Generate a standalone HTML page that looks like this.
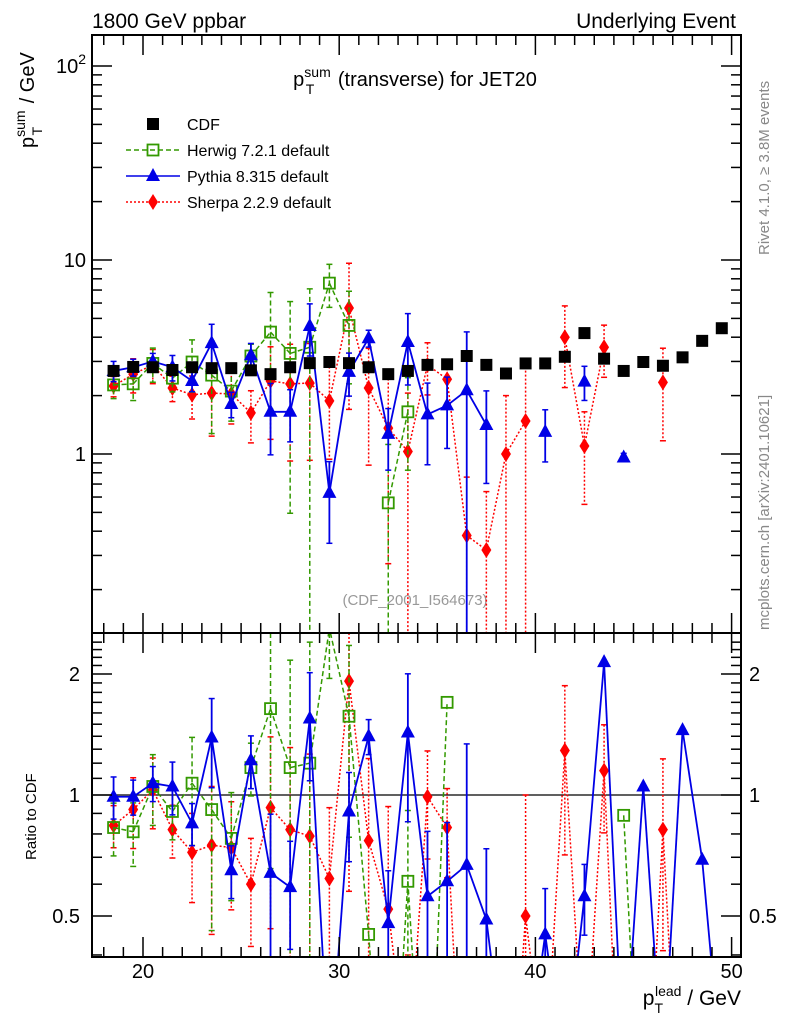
<!DOCTYPE html>
<html><head><meta charset="utf-8"><style>
html,body{margin:0;padding:0;background:#fff;overflow:hidden;width:786px;height:1024px;}
svg{display:block;font-family:"Liberation Sans",Arial,sans-serif;}
</style></head><body>
<svg id="chart" width="786" height="1024" viewBox="0 0 786 1024" xmlns="http://www.w3.org/2000/svg">
<text x="92" y="28" font-size="21">1800 GeV ppbar</text>
<text x="736" y="28" font-size="21" text-anchor="end">Underlying Event</text>
<text x="415" y="86" font-size="20" text-anchor="middle">p<tspan font-size="14" dy="-9">sum</tspan><tspan font-size="14" dx="-25" dy="17">T</tspan><tspan dy="-8" dx="18"> (transverse) for JET20</tspan></text>
<text transform="translate(34,148) rotate(-90)" font-size="20">p<tspan font-size="14" dy="-9">sum</tspan><tspan font-size="14" dx="-25" dy="17">T</tspan><tspan dy="-8" dx="18"> / GeV</tspan></text>
<text transform="translate(36,860) rotate(-90)" font-size="15">Ratio to CDF</text>
<text x="741" y="1005" font-size="21" text-anchor="end">p<tspan font-size="14" dy="8">T</tspan><tspan font-size="14" dx="-8" dy="-17">lead</tspan><tspan dy="9"> / GeV</tspan></text>
<text transform="translate(769,255) rotate(-90)" font-size="15" fill="#888">Rivet 4.1.0, ≥ 3.8M events</text>
<text transform="translate(769,630) rotate(-90)" font-size="15" fill="#888">mcplots.cern.ch [arXiv:2401.10621]</text>
<text x="415" y="605" font-size="15" fill="#999" text-anchor="middle">(CDF_2001_I564673)</text>
<g id="legend"></g>
<g id="main"></g>
<g id="ratio"></g>
<g id="axes"></g>
</svg>
<script>
const xBins=[18.5,19.5,20.5,21.5,22.5,23.5,24.5,25.5,26.5,27.5,28.5,29.5,30.5,31.5,32.5,33.5,34.5,35.5,36.5,37.5,38.5,39.5,40.5,41.5,42.5,43.5,44.5,45.5,46.5,47.5,48.5,49.5];
const cdfVals=[2.68,2.81,2.8,2.71,2.8,2.77,2.77,2.7,2.58,2.8,2.94,2.98,2.94,2.8,2.58,2.68,2.88,2.9,3.2,2.88,2.6,2.93,2.93,3.17,4.2,3.1,2.68,2.98,2.85,3.15,3.83,4.45];
const herwigVals=[2.27,2.3,2.93,2.46,2.98,2.55,2.11,3.2,4.25,3.3,3.55,7.6,4.6,null,0.56,1.65,null,null,null,null,null,null,null,null,null,null,null,null,null,null,null,null];
const herwigErr=[0.15,0.18,0.2,0.15,0.3,0.5,0.3,0.15,0.6,0.85,1,0.25,0.5,null,1,0.5,null,null,null,null,null,null,null,null,null,null,null,null,null,null,null,null];
const pythiaVals=[2.68,2.8,3.0,2.8,2.38,3.73,1.81,3.23,1.65,1.65,4.57,0.63,2.65,3.95,1.27,3.78,1.6,1.78,2.13,1.41,null,null,1.3,null,2.36,null,0.96,null,null,null,null,null];
const pythiaErr=[0.12,0.1,0.1,0.15,0.12,0.25,0.15,0.15,0.4,0.3,0.3,0.45,0.25,0.1,0.35,0.4,0.45,0.4,1,0.5,null,null,0.3,null,0.2,null,0.05,null,null,null,null,null];
const sherpaVals=[2.24,2.58,2.88,2.19,2.02,2.06,2.04,1.63,2.38,2.3,2.32,1.88,5.66,2.19,1.36,1.03,2.88,2.43,0.38,0.32,1.0,1.48,null,4.0,1.1,3.55,null,null,2.34,null,null,null];
const sherpaErr=[0.12,0.2,0.2,0.15,0.25,0.4,0.3,0.3,0.5,0.6,0.6,0.5,0.7,0.6,0.8,1,0.3,0.25,1,1,1,1,null,0.45,0.5,0.3,null,null,0.5,null,null,null];
const herwigRatio=[0.83,0.81,1.05,0.91,1.07,0.92,0.78,1.17,1.64,1.17,1.2,2.6,1.57,0.45,0.1,0.61,0.1,1.7,null,null,null,null,null,null,null,null,0.89,0.1,null,null,null,null];
const pythiaRatio=[0.99,0.99,1.07,1.05,0.85,1.39,0.65,1.22,0.64,0.59,1.55,0.2,0.91,1.4,0.48,1.43,0.56,0.61,0.67,0.49,0.2,0.2,0.45,0.2,0.56,2.14,0.2,1.05,0.2,1.45,0.69,0.2];
const sherpaRatio=[0.84,0.92,1.03,0.82,0.72,0.75,0.74,0.6,0.93,0.82,0.79,0.62,1.92,0.77,0.52,0.2,0.99,0.83,0.1,0.1,0.1,0.5,0.2,1.29,0.2,1.15,0.1,0.1,0.82,0.1,null,null];
const xTicks=[20,30,40,50];
const mainTickVals=[1,10,100];
const ratioTickVals=[0.5,1,2];
const ratioTickLabels=["0.5","1","2"];

const NS="http://www.w3.org/2000/svg";
function X(v){return 143+(v-20)*19.62;}
function YM(v){return 454-194*Math.log10(v);}
function YR(v){return 795-402*Math.log10(v);}
function mk(tag,at,parent){const e=document.createElementNS(NS,tag);for(const k in at)e.setAttribute(k,at[k]);parent.appendChild(e);return e;}
const main=document.getElementById('main'),ratio=document.getElementById('ratio'),axes=document.getElementById('axes'),leg=document.getElementById('legend');
const G="#339900",B="#0000e6",R="#ff0000";
function marker(kind,x,y,par,name){let e;
 if(kind==='cdf')e=mk('rect',{x:x-6,y:y-6,width:12,height:12,fill:'#000'},par);
 else if(kind==='herwig')e=mk('rect',{x:x-5.5,y:y-5.5,width:11,height:11,fill:'none',stroke:G,'stroke-width':1.8},par);
 else if(kind==='pythia')e=mk('polygon',{points:`${x},${y-8} ${x-7},${y+5} ${x+7},${y+5}`,fill:B},par);
 else e=mk('polygon',{points:`${x},${y-8} ${x-5},${y} ${x},${y+8} ${x+5},${y}`,fill:R},par);
 
 
 return e;}
function clipSeg(x1,y1,x2,y2,top,bot){
 let t0=0,t1=1;const dy=y2-y1;
 if(dy===0){if(y1<top||y1>bot)return null;return [x1,y1,x2,y2];}
 let ta=(top-y1)/dy,tb=(bot-y1)/dy;if(ta>tb){const s=ta;ta=tb;tb=s;}
 t0=Math.max(t0,ta);t1=Math.min(t1,tb);if(t0>=t1)return null;
 return [x1+(x2-x1)*t0,y1+dy*t0,x1+(x2-x1)*t1,y1+dy*t1];}
function series(par,vals,errs,Y,kind,color,dash,width,name,top,bot){
 function cl(y){return Math.max(top,Math.min(bot,y));}
 for(let i=0;i<vals.length-1;i++){if(vals[i]===null||vals[i+1]===null)continue;
  const s=clipSeg(X(xBins[i]),Y(vals[i]),X(xBins[i+1]),Y(vals[i+1]),top,bot);if(!s)continue;
  const l=mk('line',{x1:s[0],y1:s[1],x2:s[2],y2:s[3],stroke:color,'stroke-width':width,'stroke-dasharray':dash},par);
  
  }
 vals.forEach((v,i)=>{if(v===null)return;const x=X(xBins[i]);
  if(errs&&errs[i]!==null){const lo=v*(1-errs[i]),hi=v*(1+errs[i]);const y1=cl(Y(hi)),y2=lo>0.001?cl(Y(lo)):bot;
   if(y2>y1){
   const eb=mk('line',{x1:x,x2:x,y1:y1,y2:y2,stroke:color,'stroke-width':width,'stroke-dasharray':dash},par);
   
   
   if(y1>top)mk('line',{x1:x-3,x2:x+3,y1:y1,y2:y1,stroke:color,'stroke-width':1.5},par);
   if(y2<bot)mk('line',{x1:x-3,x2:x+3,y1:y2,y2:y2,stroke:color,'stroke-width':1.5},par);}}
  const yy=Y(v); if(yy>bot||yy<top)return;
  marker(kind,x,yy,par,name+'-point');});}
const rl=mk('line',{x1:92,x2:741,y1:YR(1),y2:YR(1),stroke:'#000','stroke-width':1.2},ratio);


series(main,sherpaVals,sherpaErr,YM,'sherpa',R,'2,2',1.5,'sherpa',35,633);
series(main,herwigVals,herwigErr,YM,'herwig',G,'5,3',1.5,'herwig',35,633);
series(main,pythiaVals,pythiaErr,YM,'pythia',B,'',1.8,'pythia',35,633);
cdfVals.forEach((v,i)=>marker('cdf',X(xBins[i]),YM(v),main,'cdf-point'));
series(ratio,sherpaRatio,sherpaErr,YR,'sherpa',R,'2,2',1.5,'sherpa-ratio',633,957);
series(ratio,herwigRatio,herwigErr,YR,'herwig',G,'5,3',1.5,'herwig-ratio',633,957);
series(ratio,pythiaRatio,pythiaErr,YR,'pythia',B,'',1.8,'pythia-ratio',633,957);
[[35,633],[633,957]].forEach(([t,b],k)=>{const f=mk('rect',{x:92,y:t,width:649,height:b-t,fill:'none',stroke:'#000','stroke-width':2},axes);
 
 
 for(let v=18;v<=50;v++){const x=X(v);const L=(v%10===0)?20:10;
  mk('line',{x1:x,x2:x,y1:b,y2:b-L,stroke:'#000','stroke-width':1.5},axes);
  mk('line',{x1:x,x2:x,y1:t,y2:t+L,stroke:'#000','stroke-width':1.5},axes);}});
xTicks.forEach(v=>{const t=mk('text',{x:X(v),y:978,'font-size':20,'text-anchor':'middle'},axes);t.textContent=v;
 
 });
for(let d=-1;d<=2;d++)for(let m=1;m<=9;m++){const v=m*Math.pow(10,d);const y=YM(v);if(y<35||y>633)continue;const L=m===1?20:10;
 mk('line',{x1:92,x2:92+L,y1:y,y2:y,stroke:'#000','stroke-width':1.5},axes);
 mk('line',{x1:741,x2:741-L,y1:y,y2:y,stroke:'#000','stroke-width':1.5},axes);}
mainTickVals.forEach(v=>{const t=mk('text',{x:86,y:YM(v)+7,'font-size':20,'text-anchor':'end'},axes);
 if(v===100){t.innerHTML='10<tspan font-size="14" dy="-9">2</tspan>';}else t.textContent=v;
 
 });
for(let v=0.4;v<=2.45;v+=0.1){const y=YR(v);if(y<633||y>957)continue;const maj=ratioTickVals.some(r=>Math.abs(r-v)<1e-6);const L=maj?20:10;
 mk('line',{x1:92,x2:92+L,y1:y,y2:y,stroke:'#000','stroke-width':1.5},axes);
 mk('line',{x1:741,x2:741-L,y1:y,y2:y,stroke:'#000','stroke-width':1.5},axes);}
ratioTickVals.forEach((v,i)=>{const a=mk('text',{x:80,y:YR(v)+7,'font-size':20,'text-anchor':'end'},axes);a.textContent=ratioTickLabels[i];
 
 
 const b=mk('text',{x:749,y:YR(v)+7,'font-size':20},axes);b.textContent=ratioTickLabels[i];
 
 });
const legItems=[['cdf','CDF','#000',''],['herwig','Herwig 7.2.1 default',G,'5,3'],['pythia','Pythia 8.315 default',B,''],['sherpa','Sherpa 2.2.9 default',R,'2,2']];
legItems.forEach((it,i)=>{const y=124+i*26;
 if(i>0)mk('line',{x1:126,x2:180,y1:y,y2:y,stroke:it[2],'stroke-width':1.5,'stroke-dasharray':it[3]},leg);
 marker(it[0],153,y,leg,'legend-marker-'+it[0]);
 const t=mk('text',{x:187,y:y+6,'font-size':16},leg);t.textContent=it[1];
 
 });
</script>
</body></html>
